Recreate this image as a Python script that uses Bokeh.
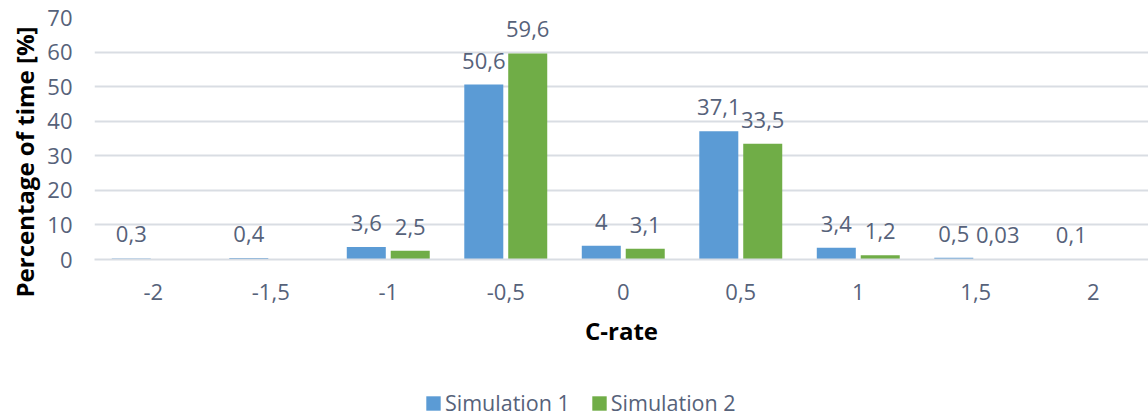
import math
import numpy as np
from bokeh.plotting import figure
from bokeh.layouts import column
from bokeh.models import (ColumnDataSource, Range1d, FixedTicker, Legend, LegendItem,
                          Title)
from bokeh.transform import dodge
from bokeh.core.properties import value
from bokeh.embed import file_html
from bokeh.resources import INLINE

# C-rate classes and share of time spent in each (percent)
c_rates = ["-2", "-1,5", "-1", "-0,5", "0", "0,5", "1", "1,5", "2"]
sim1 = [0.3, 0.4, 3.6, 50.6, 4, 37.1, 3.4, 0.5, 0.1]
sim2 = [np.nan, np.nan, 2.5, 59.6, 3.1, 33.5, 1.2, 0.03, np.nan]
series_names = ["Simulation 1", "Simulation 2"]
y_ticks = [0, 10, 20, 30, 40, 50, 60, 70]

FONT = "Open Sans"
TXT = "#56627a"
BLUE = "#5b9bd5"
GREEN = "#70ad47"
GRID = "#d9dde3"

idx = list(range(len(c_rates)))


def fmt(v):
    return f"{v:g}".replace(".", ",")


src = ColumnDataSource(dict(x=idx, s1=sim1, s2=sim2))

p = figure(width=1148, height=370, output_backend="svg", toolbar_location=None,
           x_range=Range1d(-0.5, 8.47), y_range=Range1d(0, 70),
           min_border_left=94, min_border_right=0, min_border_top=17,
           min_border_bottom=111)
p.outline_line_color = None
p.background_fill_color = "white"
p.border_fill_color = "white"

BW = 0.332
OFF = 0.187
p.vbar(x=dodge("x", -OFF), top="s1", width=BW, source=src,
       fill_color=BLUE, line_color=None)
p.vbar(x=dodge("x", OFF), top="s2", width=BW, source=src,
       fill_color=GREEN, line_color=None)

# value labels above each bar
for vals, off in ((sim1, -OFF), (sim2, OFF)):
    xs = [i + off for i, v in zip(idx, vals) if not math.isnan(v)]
    ys = [v for v in vals if not math.isnan(v)]
    ts = [fmt(v) for v in ys]
    p.text(x=xs, y=ys, text=ts, text_font=value(FONT), text_font_size="22px",
           text_color=TXT, text_align="center", text_baseline="alphabetic",
           y_offset=-24)

# axes
p.xaxis.ticker = FixedTicker(ticks=idx)
p.xaxis.major_label_overrides = {i: c for i, c in zip(idx, c_rates)}
p.xaxis.major_tick_line_color = None
p.xaxis.minor_tick_line_color = None
p.xaxis.axis_line_color = GRID
p.xaxis.axis_line_width = 2
p.xaxis.major_label_text_font = FONT
p.xaxis.major_label_text_font_size = "22px"
p.xaxis.major_label_text_color = TXT
p.xaxis.major_label_standoff = 18
p.xaxis.axis_label = "C-rate"
p.xaxis.axis_label_text_font = FONT
p.xaxis.axis_label_text_font_size = "24px"
p.xaxis.axis_label_text_font_style = "bold"
p.xaxis.axis_label_text_color = "black"
p.xaxis.axis_label_standoff = 11

p.yaxis.ticker = FixedTicker(ticks=y_ticks)
p.yaxis.major_tick_line_color = None
p.yaxis.minor_tick_line_color = None
p.yaxis.axis_line_color = None
p.yaxis.major_label_text_font = FONT
p.yaxis.major_label_text_font_size = "22px"
p.yaxis.major_label_text_color = TXT
p.yaxis.major_label_standoff = 16

p.xgrid.grid_line_color = None
p.ygrid.grid_line_color = GRID
p.ygrid.grid_line_width = 2

# vertical title on the left
p.add_layout(Title(text="Percentage of time [%]", align="left", offset=-38,
                   text_font=FONT, text_font_size="24px", text_font_style="bold",
                   text_color="black", standoff=7), "left")

# legend strip under the chart
q = figure(width=1148, height=47, output_backend="svg", toolbar_location=None,
           x_range=Range1d(0, 1), y_range=Range1d(0, 1),
           min_border=0, outline_line_color=None)
q.axis.visible = False
q.grid.visible = False
g1 = q.vbar(x=[5], top=[5], width=0.1, fill_color=BLUE, line_color=None)
g2 = q.vbar(x=[5], top=[5], width=0.1, fill_color=GREEN, line_color=None)
legend = Legend(items=[LegendItem(label=series_names[0], renderers=[g1]),
                       LegendItem(label=series_names[1], renderers=[g2])],
                orientation="horizontal", location=(330, 0),
                glyph_width=18, glyph_height=18, label_standoff=3, spacing=20,
                padding=0, margin=0, border_line_color=None,
                background_fill_alpha=0,
                label_text_font=FONT, label_text_font_size="21.5px",
                label_text_color=TXT)
q.add_layout(legend)

layout = column(p, q, spacing=0)
open("out.html", "w").write(file_html(layout, INLINE))
